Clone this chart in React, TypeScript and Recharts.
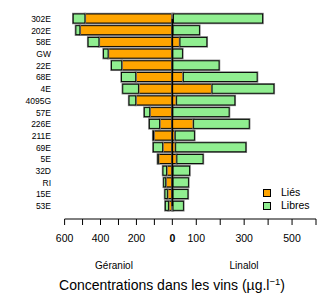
import React from "react";
import { BarChart, Bar, XAxis, YAxis, ReferenceLine } from "recharts";

// Wine samples (top to bottom)
const wines = ["302E", "202E", "58E", "GW", "22E", "68E", "4E", "4095G", "57E", "226E", "211E", "69E", "5E", "32D", "RI", "15E", "53E"];
// Géraniol (µg/l)
const geraniolLies = [487, 515, 409, 358, 282, 204, 189, 204, 126, 71, 104, 54, 78, 32, 37, 28, 22];
const geraniolLibres = [65, 22, 60, 25, 57, 79, 87, 37, 30, 57, 3, 52, 3, 20, 11, 13, 17];
// Linalol (µg/l)
const linalolLies = [5, 3, 32, 2, 2, 46, 166, 18, 2, 89, 12, 14, 19, 3, 3, 3, 3];
const linalolLibres = [372, 110, 112, 40, 193, 308, 258, 243, 235, 232, 80, 293, 109, 69, 64, 62, 43];

// Left (Géraniol) half is drawn on a compressed scale relative to right (Linalol) half
const GERANIOL_FACTOR = 0.75;
const geraniolTicks = [600, 500, 400, 300, 200, 100, 0];
const geraniolLabels = [600, 400, 200, 0];
const linalolTicks = [100, 200, 300, 400, 500, 600];
const linalolLabels = [100, 300, 500];

const legendItems = [
  { label: "Liés", color: "#FFA500" },
  { label: "Libres", color: "#90EE90" },
];

const data = wines.map((name, i) => ({
  name,
  gL: -geraniolLies[i] * GERANIOL_FACTOR,
  gF: -geraniolLibres[i] * GERANIOL_FACTOR,
  lL: linalolLies[i],
  lF: linalolLibres[i],
}));

const tickValues = [
  ...geraniolTicks.map((v) => -v * GERANIOL_FACTOR),
  ...linalolTicks,
];

const labelFor = (v: number): string => {
  if (v < 0) {
    const g = Math.round(-v / GERANIOL_FACTOR);
    return geraniolLabels.includes(g) ? String(g) : "";
  }
  if (v === 0) return "0";
  return linalolLabels.includes(v) ? String(v) : "";
};

const FONT = "'Liberation Sans', Arial, sans-serif";

const BarShape = (props: any) => {
  const { x, y, width, height, fill } = props;
  if (width == null || height == null) return null;
  const x0 = Math.min(x, x + width);
  const w = Math.abs(width);
  return (
    <g>
      <rect x={x0} y={y} width={w} height={height} fill="none" stroke="#7a7a7a" strokeWidth={2.4} />
      <rect x={x0} y={y} width={w} height={height} fill={fill} stroke="#000" strokeWidth={0.9} />
    </g>
  );
};

const XTick = (props: any) => {
  const { x, y, payload } = props;
  const txt = labelFor(payload.value);
  if (!txt) return null;
  return (
    <text
      x={x}
      y={y + 15}
      textAnchor="middle"
      fontSize={10.5}
      fontFamily={FONT}
      fontWeight={txt === "0" ? "bold" : "normal"}
      fill="#000"
    >
      {txt}
    </text>
  );
};

const YTick = (props: any) => {
  const { y, payload } = props;
  return (
    <text x={51} y={y + 3} textAnchor="end" fontSize={8.5} fontFamily={FONT} fill="#000">
      {payload.value}
    </text>
  );
};

export default function App() {
  return (
    <div style={{ position: "absolute", left: 0, top: 0, width: 317, height: 293, background: "#fff" }}>
      <BarChart
        width={317}
        height={293}
        data={data}
        layout="vertical"
        stackOffset="sign"
        barSize={9}
        margin={{ top: 13, right: 1, left: 0, bottom: 54 }}
      >
        <XAxis
          type="number"
          domain={[-450, 600]}
          allowDataOverflow
          ticks={tickValues}
          interval={0}
          height={20}
          stroke="#000"
          tickSize={6}
          tickLine={{ stroke: "#000" }}
          axisLine={{ stroke: "#000" }}
          tick={<XTick />}
        />
        <YAxis
          type="category"
          dataKey="name"
          width={64.6}
          axisLine={false}
          tickLine={false}
          interval={0}
          padding={{ top: 0, bottom: 7 }}
          tick={<YTick />}
        />
        <Bar dataKey="gL" stackId="s" fill="#FFA500" shape={<BarShape />} isAnimationActive={false} />
        <Bar dataKey="gF" stackId="s" fill="#90EE90" shape={<BarShape />} isAnimationActive={false} />
        <Bar dataKey="lL" stackId="s" fill="#FFA500" shape={<BarShape />} isAnimationActive={false} />
        <Bar dataKey="lF" stackId="s" fill="#90EE90" shape={<BarShape />} isAnimationActive={false} />
        <ReferenceLine
          segment={[
            { x: 0, y: wines[0] },
            { x: 0, y: wines[wines.length - 1] },
          ]}
          stroke="#000"
          strokeWidth={1.6}
        />
      </BarChart>
      <div
        style={{
          position: "absolute",
          left: 263,
          top: 186,
          fontFamily: FONT,
          fontSize: 10.5,
          lineHeight: "13px",
        }}
      >
        {legendItems.map((it) => (
          <div key={it.label} style={{ display: "flex", alignItems: "center", height: 13 }}>
            <span
              style={{
                display: "inline-block",
                width: 6,
                height: 6,
                background: it.color,
                border: "1px solid #000",
                marginRight: 10,
              }}
            />
            <span>{it.label}</span>
          </div>
        ))}
      </div>
      <svg
        width={317}
        height={293}
        style={{ position: "absolute", left: 0, top: 0, pointerEvents: "none" }}
      >
        <text x={114} y={268.5} textAnchor="middle" fontSize={10} fontFamily={FONT} fill="#000">
          Géraniol
        </text>
        <text x={244} y={268.5} textAnchor="middle" fontSize={10} fontFamily={FONT} fill="#000">
          Linalol
        </text>
        <text x={172} y={290} textAnchor="middle" fontSize={14} fontFamily={FONT} fill="#000">
          Concentrations dans les vins (µg.l
          <tspan fontSize={9.5} dy={-5}>−1</tspan>
          <tspan dy={5}>)</tspan>
        </text>
      </svg>
    </div>
  );
}
